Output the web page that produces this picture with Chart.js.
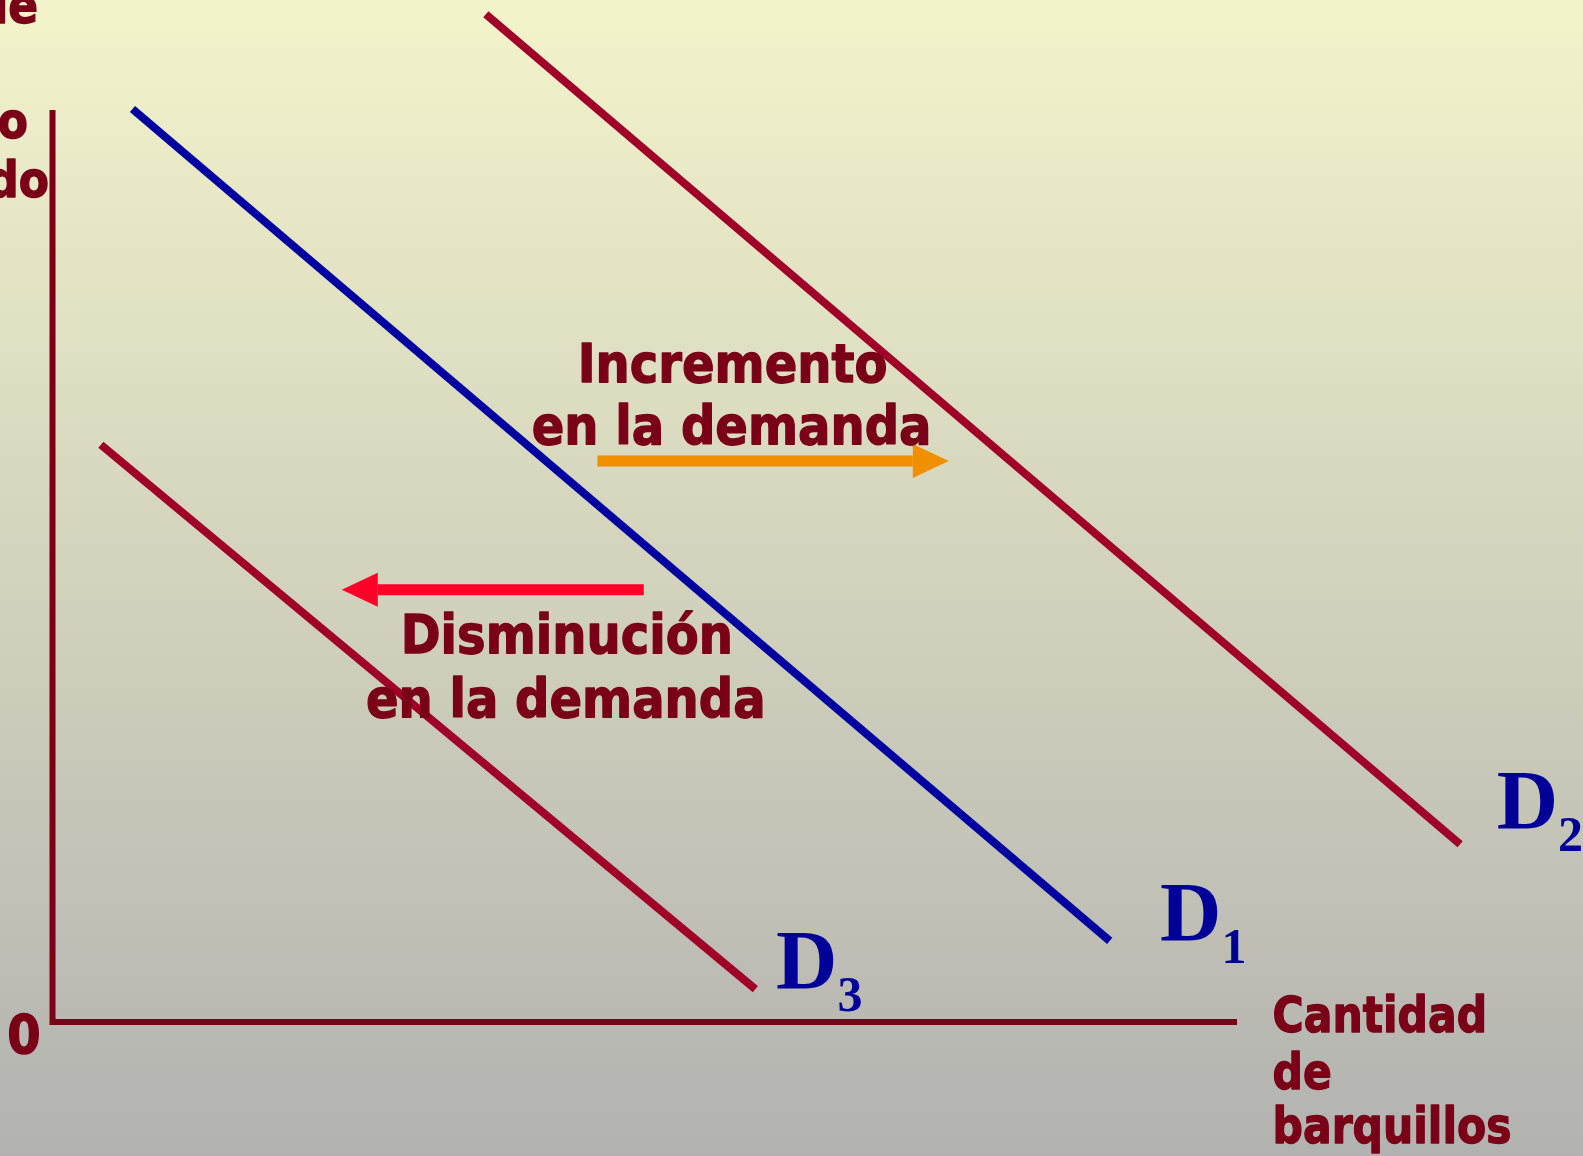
<!DOCTYPE html>
<html>
<head>
<meta charset="utf-8">
<script src="https://cdn.jsdelivr.net/npm/chart.js@4.4.1/dist/chart.umd.min.js"></script>
<style>
  html, body { margin: 0; padding: 0; overflow: hidden; }
  #wrap { width: 1583px; height: 1156px; position: relative; }
</style>
</head>
<body>
<div id="wrap"><canvas id="demand_canvas"></canvas></div>
<script>
// demand curves (quantity x, price y)
const demandD1 = [{x: 0.81, y: 10.01}, {x: 10.71, y: 0.89}];
const demandD2 = [{x: 4.39, y: 11.05}, {x: 14.26, y: 1.95}];
const demandD3 = [{x: 0.49, y: 6.33}, {x: 7.12, y: 0.36}];
const axisLine = [{x: 0, y: 10}, {x: 0, y: 0}, {x: 12, y: 0}];

// shift arrows: tail -> tip
const increaseArrow = [{x: 5.52, y: 6.15}, {x: 9.08, y: 6.15}];
const decreaseArrow = [{x: 5.99, y: 4.74}, {x: 2.93, y: 4.74}];

// texts
const increaseText = ['Incremento', 'en la demanda'];
const decreaseText = ['Disminución', 'en la demanda'];
const curveNames = ['D', 'D', 'D'];
const curveSubs = ['1', '2', '3'];
const xTitle = ['Cantidad', 'de', 'barquillos'];
const yTitle = ['Precio de', 'barquillo', 'helado'];
const originLabel = '0';

const MAROON = '#7a0018';
const CURVE_RED = '#a00028';
const BLUE = '#0000a0';
const LABEL_BLUE = '#000099';

const ctx = document.getElementById('demand_canvas').getContext('2d');

// text with optional extra stroke to get the heavy slide font look
function drawText(c, text, x, y, font, color, align, sx, heavy) {
  c.save();
  c.translate(x, y);
  c.scale(sx, 1);
  c.font = font;
  c.fillStyle = color;
  c.textAlign = align;
  c.textBaseline = 'alphabetic';
  c.fillText(text, 0, 0);
  if (heavy) {
    c.strokeStyle = color;
    c.lineWidth = heavy;
    c.lineJoin = 'round';
    c.strokeText(text, 0, 0);
  }
  c.restore();
}

const backgroundPlugin = {
  id: 'slideBackground',
  beforeDraw(chart) {
    const c = chart.ctx;
    const g = c.createLinearGradient(0, 0, 0, chart.height);
    g.addColorStop(0, '#f3f3cb');
    g.addColorStop(1, '#b2b2b0');
    c.save();
    c.fillStyle = g;
    c.fillRect(0, 0, chart.width, chart.height);
    c.restore();
  }
};

const annotationPlugin = {
  id: 'annotations',
  afterDatasetsDraw(chart) {
    const c = chart.ctx;
    const sx = chart.scales.x, sy = chart.scales.y;
    const px = v => sx.getPixelForValue(v);
    const py = v => sy.getPixelForValue(v);
    const sans = 'bold 54px "DejaVu Sans", Verdana, sans-serif';

    // arrows
    const arrows = [
      {pts: increaseArrow, color: '#f09000'},
      {pts: decreaseArrow, color: '#ff0028'}
    ];
    arrows.forEach(a => {
      const x0 = px(a.pts[0].x), y0 = py(a.pts[0].y);
      const x1 = px(a.pts[1].x), y1 = py(a.pts[1].y);
      const ang = Math.atan2(y1 - y0, x1 - x0);
      const headLen = 36, headHalf = 17, shaft = 11;
      const bx = x1 - headLen * Math.cos(ang), by = y1 - headLen * Math.sin(ang);
      c.save();
      c.strokeStyle = a.color;
      c.fillStyle = a.color;
      c.lineWidth = shaft;
      c.lineCap = 'butt';
      c.beginPath();
      c.moveTo(x0, y0);
      c.lineTo(bx, by);
      c.stroke();
      c.beginPath();
      c.moveTo(x1, y1);
      c.lineTo(bx - headHalf * Math.sin(ang), by + headHalf * Math.cos(ang));
      c.lineTo(bx + headHalf * Math.sin(ang), by - headHalf * Math.cos(ang));
      c.closePath();
      c.fill();
      c.restore();
    });

    // shift labels
    drawText(c, increaseText[0], px(6.89), py(7.02), sans, MAROON, 'center', 0.89, 1.4);
    drawText(c, increaseText[1], px(6.88), py(6.34), sans, MAROON, 'center', 0.89, 1.4);
    drawText(c, decreaseText[0], px(5.21), py(4.05), sans, MAROON, 'center', 0.89, 1.4);
    drawText(c, decreaseText[1], px(5.20), py(3.34), sans, MAROON, 'center', 0.89, 1.4);

    // origin
    drawText(c, originLabel, px(-0.29), py(-0.34), sans, MAROON, 'center', 0.89, 1.4);

    // axis titles
    const sans2 = 'bold 50px "DejaVu Sans", Verdana, sans-serif';
    const xTitleY = [-0.11, -0.735, -1.33];
    xTitle.forEach((t, i) => drawText(c, t, px(12.36), py(xTitleY[i]), sans2, MAROON, 'left', 0.85, 1.4));
    const yTitleX = [-0.147, -0.248, -0.035];
    const yTitleY = [10.95, 9.69, 9.05];
    yTitle.forEach((t, i) => drawText(c, t, px(yTitleX[i]), py(yTitleY[i]), sans2, MAROON, 'right', 0.88, 1.4));

    // curve names
    const namePos = [{x: 11.22, y: 0.888}, {x: 14.63, y: 2.12}, {x: 7.33, y: 0.362}];
    const serif = 'bold 85px "Liberation Serif", "Times New Roman", serif';
    const serifSub = 'bold 50px "Liberation Serif", "Times New Roman", serif';
    curveNames.forEach((n, i) => {
      const x = px(namePos[i].x), y = py(namePos[i].y);
      drawText(c, n, x, y, serif, LABEL_BLUE, 'left', 1, 0);
      c.save();
      c.font = serif;
      const w = c.measureText(n).width;
      c.restore();
      drawText(c, curveSubs[i], x + w, y + 22, serifSub, LABEL_BLUE, 'left', 1, 0);
    });
  }
};

const config = {
  type: 'scatter',
  data: {
    datasets: [
      {label: 'Ejes', data: axisLine, showLine: true, borderColor: MAROON, borderWidth: 6,
       pointRadius: 0, borderJoinStyle: 'miter', borderCapStyle: 'butt'},
      {label: 'D3', data: demandD3, showLine: true, borderColor: CURVE_RED, borderWidth: 8, pointRadius: 0},
      {label: 'D1', data: demandD1, showLine: true, borderColor: BLUE, borderWidth: 8, pointRadius: 0},
      {label: 'D2', data: demandD2, showLine: true, borderColor: CURVE_RED, borderWidth: 8, pointRadius: 0}
    ]
  },
  options: {
    responsive: true,
    maintainAspectRatio: false,
    animation: false,
    layout: { padding: 0 },
    scales: {
      x: { type: 'linear', display: false, min: -0.532, max: 15.505 },
      y: { type: 'linear', display: false, min: -1.469, max: 11.206 }
    },
    plugins: {
      legend: { display: false },
      tooltip: { enabled: false }
    }
  },
  plugins: [backgroundPlugin, annotationPlugin]
};

const demandChart = new Chart(ctx, config);
</script>
</body>
</html>
